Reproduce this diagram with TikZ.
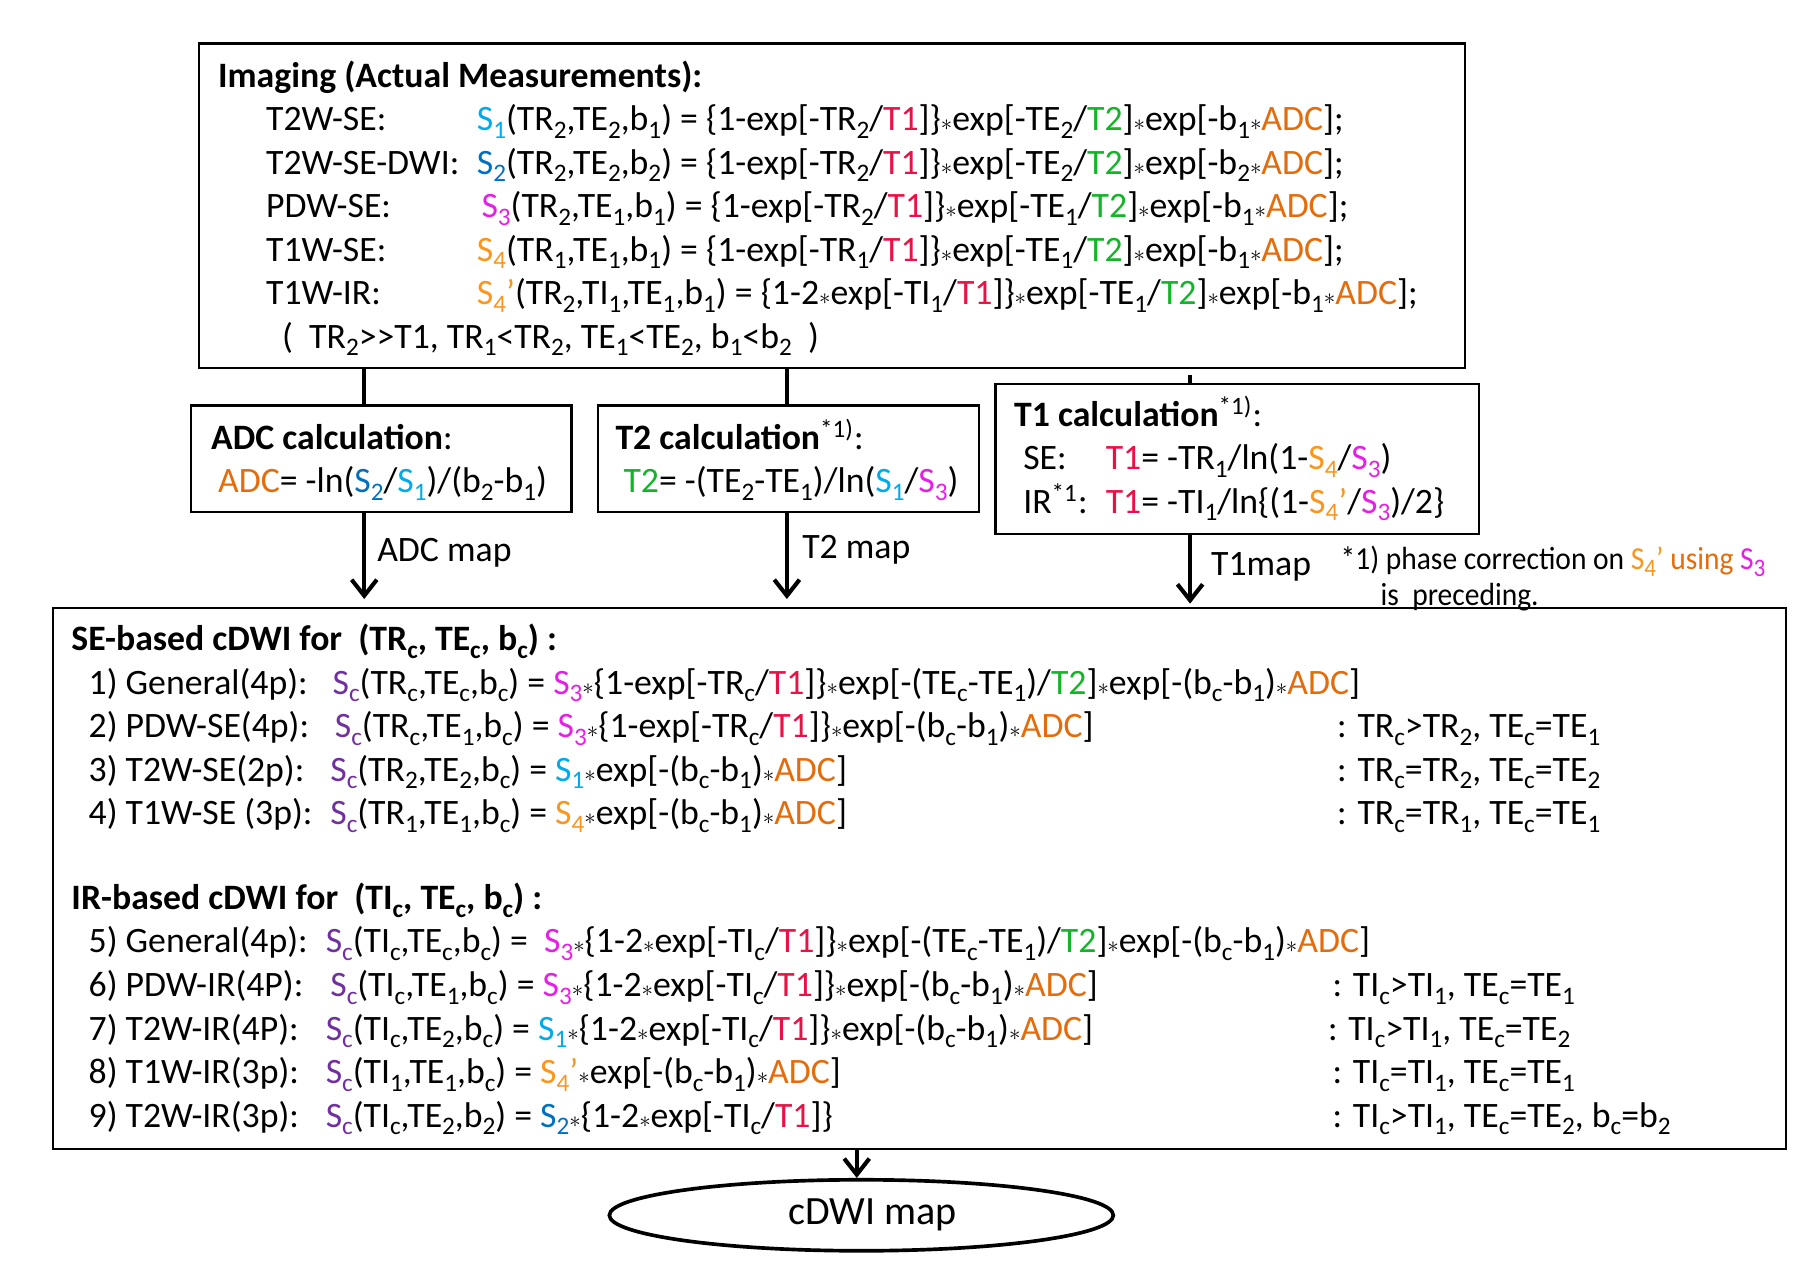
\documentclass[tikz,border=0pt]{standalone}
\usepackage{fontspec}
\usepackage{graphicx}
\setmainfont{Carlito}
\usetikzlibrary{arrows.meta,shapes.geometric}
\definecolor{cSone}{RGB}{0,170,235}
\definecolor{cStwo}{RGB}{0,112,192}
\definecolor{cSthree}{RGB}{232,30,232}
\definecolor{cSfour}{RGB}{250,150,30}
\definecolor{cADC}{RGB}{228,108,10}
\definecolor{cTone}{RGB}{230,20,70}
\definecolor{cTtwo}{RGB}{20,180,40}
\definecolor{cSC}{RGB}{112,48,160}
\newcommand\fs{\fontsize{15.6}{18}\selectfont}
\newcommand\su[1]{\raisebox{-3.3pt}{\fontsize{11}{11}\selectfont #1}}
\newcommand\st{{\fontsize{10}{10}\selectfont$\ast$}}
\newcommand\xSa{\textcolor{cSone}{S\su1}}
\newcommand\xSb{\textcolor{cStwo}{S\su2}}
\newcommand\xSc{\textcolor{cSthree}{S\su3}}
\newcommand\xSd{\textcolor{cSfour}{S\su4}}
\newcommand\xSdp{\textcolor{cSfour}{S\su4’}}
\newcommand\xSC{\textcolor{cSC}{S\su c}}
\newcommand\xTa{\textcolor{cTone}{T1}}
\newcommand\xTb{\textcolor{cTtwo}{T2}}
\newcommand\xADC{\textcolor{cADC}{ADC}}
\tikzset{
  box/.style={draw, line width=1pt, inner sep=0pt},
  tx/.style={anchor=base west, inner sep=0pt, font=\fs},
  conn/.style={line width=1.8pt},
  arr/.style={line width=1.8pt, -{Straight Barb[length=7pt,width=11pt,line width=1.8pt]}}
}
\begin{document}
\begin{tikzpicture}[x=0.5pt,y=-0.5pt]
\useasboundingbox (0,0) rectangle (1568,1119);
% boxes
\node[box, minimum width=552.5pt, minimum height=141.5pt] (top) at (726.5,179.5) {};
\node[box, minimum width=166pt, minimum height=46.5pt] (adc) at (333,400.5) {};
\node[box, minimum width=166.5pt, minimum height=46.5pt] (t2) at (688.5,400.5) {};
\node[box, minimum width=211pt, minimum height=65.5pt] (t1) at (1080,400.5) {};
\node[box, minimum width=756.5pt, minimum height=236pt] (big) at (802.5,767) {};
\node[draw, ellipse, line width=1.6pt, inner sep=0pt, minimum width=220pt, minimum height=31pt, font=\fontsize{17.5}{20}\selectfont] (ell) at (752,1061) {\hspace*{10pt}cDWI map};
% connectors
\coordinate (xa) at (318,0);
\coordinate (xb) at (687,0);
\coordinate (xc) at (1039,327);
\coordinate (xd) at (748,0);
\draw[conn] (top.south -| xa) -- (adc.north -| xa);
\draw[conn] (top.south -| xb) -- (t2.north -| xb);
\draw[conn] (xc) -- (t1.north -| xc);
\draw[arr, shorten >=3.5pt] (adc.south -| xa) -- (big.north -| xa);
\draw[arr, shorten >=3.5pt] (t2.south -| xb) -- (big.north -| xb);
\draw[arr, shorten >=1.5pt] (t1.south -| xc) -- (big.north -| xc);
\draw[arr, shorten >=0pt] (big.south -| xd) -- (ell.north -| xd);
% top box text
\node[tx] (ti) at (190,76) {\textbf{Imaging (Actual Measurements):}};
\node[tx] (l1) at (232,114) {T2W-SE:};
\node[tx] (e1) at (416,114) {\xSa(TR\su2,TE\su2,b\su1) = \{1-exp[-TR\su2/\xTa]\}\st exp[-TE\su2/\xTb]\st exp[-b\su1\st\xADC];};
\node[tx] (l2) at (232,152) {T2W-SE-DWI:};
\node[tx] (e2) at (416,152) {\xSb(TR\su2,TE\su2,b\su2) = \{1-exp[-TR\su2/\xTa]\}\st exp[-TE\su2/\xTb]\st exp[-b\su2\st\xADC];};
\node[tx] (l3) at (232,190) {PDW-SE:};
\node[tx] (e3) at (420,190) {\xSc(TR\su2,TE\su1,b\su1) = \{1-exp[-TR\su2/\xTa]\}\st exp[-TE\su1/\xTb]\st exp[-b\su1\st\xADC];};
\node[tx] (l4) at (232,228) {T1W-SE:};
\node[tx] (e4) at (416,228) {\xSd(TR\su1,TE\su1,b\su1) = \{1-exp[-TR\su1/\xTa]\}\st exp[-TE\su1/\xTb]\st exp[-b\su1\st\xADC];};
\node[tx] (l5) at (232,266) {T1W-IR:};
\node[tx] (e5) at (416,266) {\xSdp(TR\su2,TI\su1,TE\su1,b\su1) = \{1-2\st exp[-TI\su1/\xTa]\}\st exp[-TE\su1/\xTb]\st exp[-b\su1\st\xADC];};
\node[tx] (l6) at (246,304) {( \ TR\su2>\kern0pt>T1, TR\su1<TR\su2, TE\su1<TE\su2, b\su1<b\su2 \ )};
% ADC box
\node[tx] (at) at (184,392) {\textbf{ADC calculation}:};
\node[tx] (af) at (190,430) {\xADC= -ln(\xSb/\xSa)/(b\su2-b\su1)};
% T2 box
\node[tx] (bt) at (537,392) {\textbf{T2 calculation}\textsuperscript{*1)}:};
\node[tx] (bf) at (544,430) {\xTb= -(TE\su2-TE\su1)/ln(\xSa/\xSc)};
% T1 box
\node[tx] (ct) at (885,372) {\textbf{T1 calculation}\textsuperscript{*1)}:};
\node[tx] (cl1) at (893,410) {SE:};
\node[tx] (cf1) at (965,410) {\xTa= -TR\su1/ln(1-\xSd/\xSc)};
\node[tx] (cl2) at (893,448) {IR\textsuperscript{*1}:};
\node[tx] (cf2) at (965,448) {\xTa= -TI\su1/ln\{(1-\xSdp/\xSc)/2\}};
% map labels
\node[tx] (ma) at (329,490) {ADC map};
\node[tx] (mb) at (700,488) {T2 map};
\node[tx] (mc) at (1057,502) {T1map};
\node[tx, font=\fontsize{14}{17}\selectfont] (fn1) at (1170,497) {\scalebox{0.92}[1]{*1) phase correction on \textcolor{cSfour}{S\su4’} \textcolor{cADC}{using} \xSc}};
\node[tx, font=\fontsize{14}{17}\selectfont] (fn2) at (1205,529) {\scalebox{0.92}[1]{is\ \ preceding.}};
% big box
\node[tx] (st) at (62,568) {\textbf{SE-based cDWI for\ \ (TR\su c, TE\su c, b\su c) :}};
\node[tx] (r1) at (77,606) {1) General(4p):};
\node[tx] (q1) at (290,606) {\xSC(TR\su c,TE\su c,b\su c) = \xSc\st\{1-exp[-TR\su c/\xTa]\}\st exp[-(TE\su c-TE\su1)/\xTb]\st exp[-(b\su c-b\su1)\st\xADC]};
\node[tx] (r2) at (77,644) {2) PDW-SE(4p):};
\node[tx] (q2) at (292,644) {\xSC(TR\su c,TE\su1,b\su c) = \xSc\st\{1-exp[-TR\su c/\xTa]\}\st exp[-(b\su c-b\su1)\st\xADC]};
\node[tx] (k2) at (1167,644) {: TR\su c>TR\su2, TE\su c=TE\su1};
\node[tx] (r3) at (77,682) {3) T2W-SE(2p):};
\node[tx] (q3) at (288,682) {\xSC(TR\su2,TE\su2,b\su c) = \xSa\st exp[-(b\su c-b\su1)\st\xADC]};
\node[tx] (k3) at (1167,682) {: TR\su c=TR\su2, TE\su c=TE\su2};
\node[tx] (r4) at (77,720) {4) T1W-SE (3p):};
\node[tx] (q4) at (288,720) {\xSC(TR\su1,TE\su1,b\su c) = \xSd\st exp[-(b\su c-b\su1)\st\xADC]};
\node[tx] (k4) at (1167,720) {: TR\su c=TR\su1, TE\su c=TE\su1};
\node[tx] (it) at (62,794) {\textbf{IR-based cDWI for\ \ (TI\su c, TE\su c, b\su c) :}};
\node[tx] (r5) at (77,832) {5) General(4p):};
\node[tx] (q5) at (284,832) {\xSC(TI\su c,TE\su c,b\su c) =\ \ \xSc\st\{1-2\st exp[-TI\su c/\xTa]\}\st exp[-(TE\su c-TE\su1)/\xTb]\st exp[-(b\su c-b\su1)\st\xADC]};
\node[tx] (r6) at (77,870) {6) PDW-IR(4P):};
\node[tx] (q6) at (288,870) {\xSC(TI\su c,TE\su1,b\su c) = \xSc\st\{1-2\st exp[-TI\su c/\xTa]\}\st exp[-(b\su c-b\su1)\st\xADC]};
\node[tx] (k6) at (1163,870) {: TI\su c>TI\su1, TE\su c=TE\su1};
\node[tx] (r7) at (77,908) {7) T2W-IR(4P):};
\node[tx] (q7) at (284,908) {\xSC(TI\su c,TE\su2,b\su c) = \xSa\st\{1-2\st exp[-TI\su c/\xTa]\}\st exp[-(b\su c-b\su1)\st\xADC]};
\node[tx] (k7) at (1159,908) {: TI\su c>TI\su1, TE\su c=TE\su2};
\node[tx] (r8) at (77,946) {8) T1W-IR(3p):};
\node[tx] (q8) at (284,946) {\xSC(TI\su1,TE\su1,b\su c) = \xSdp\st exp[-(b\su c-b\su1)\st\xADC]};
\node[tx] (k8) at (1163,946) {: TI\su c=TI\su1, TE\su c=TE\su1};
\node[tx] (r9) at (77,984) {9) T2W-IR(3p):};
\node[tx] (q9) at (284,984) {\xSC(TI\su c,TE\su2,b\su2) = \xSb\st\{1-2\st exp[-TI\su c/\xTa]\}};
\node[tx] (k9) at (1163,984) {: TI\su c>TI\su1, TE\su c=TE\su2, b\su c=b\su2};
\end{tikzpicture}
\end{document}
